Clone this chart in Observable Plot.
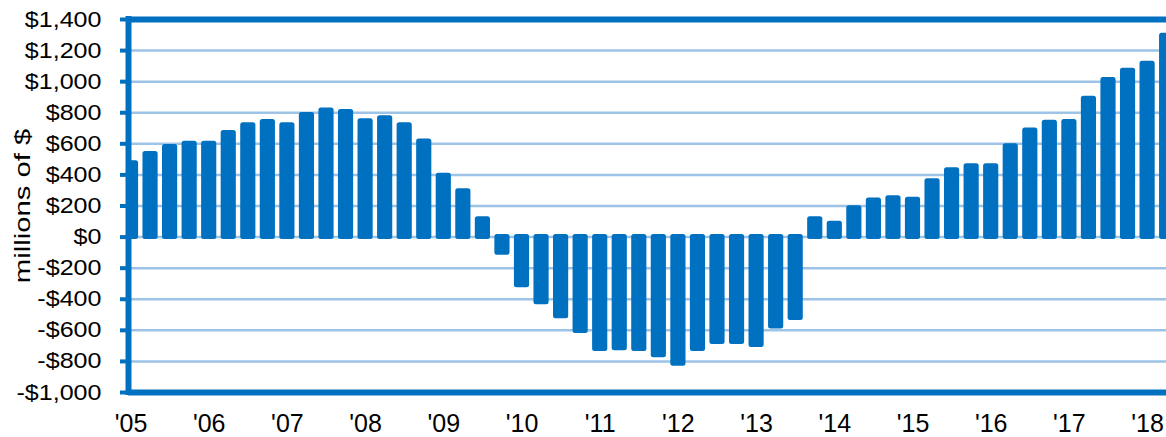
<!DOCTYPE html>
<html><head><meta charset="utf-8">
<script src="https://cdn.jsdelivr.net/npm/d3@7"></script>
<script src="https://cdn.jsdelivr.net/npm/@observablehq/plot@0.6"></script>
<style>body{margin:0;overflow:hidden;background:#fff}</style>
</head><body><div id="chart"></div>
<script>
// Quarterly values, 2005 Q1 .. 2018 Q2 (millions of $)
const values = [
  475, 535, 580, 600,   // 2005
  600, 670, 720, 740,   // 2006
  720, 785, 815, 805,   // 2007
  745, 765, 720, 615,   // 2008
  395, 295, 115, -100,  // 2009
  -310, -420, -510, -605, // 2010
  -720, -715, -720, -760, // 2011
  -815, -720, -675, -675, // 2012
  -695, -575, -520, 115,  // 2013
  85, 185, 235, 250,    // 2014
  240, 360, 430, 455,   // 2015
  455, 585, 685, 735,   // 2016
  740, 890, 1010, 1070, // 2017
  1115, 1295            // 2018
];
const yearLabels = ["'05","'06","'07","'08","'09","'10","'11","'12","'13","'14","'15","'16","'17","'18"];
const yTicks = [-1000, -800, -600, -400, -200, 0, 200, 400, 600, 800, 1000, 1200, 1400];
const yTitle = "millions of $";

const data = values.map((v, i) => ({q: i, value: v}));
const yearTicks = yearLabels.map((_, i) => i * 4);
const blue = "#0070C0", grid = "#9DC3E6";
const xDomain = [-0.128, 52.967];
const fmt = v => (v < 0 ? "-$" : "$") + d3.format(",")(Math.abs(v));

const chart = Plot.plot({
  width: 1166, height: 437,
  marginLeft: 128, marginRight: 0, marginTop: 19, marginBottom: 45,
  style: {fontFamily: "'Liberation Sans', Arial, sans-serif", background: "white", color: "black"},
  x: {domain: xDomain},
  y: {domain: [yTicks[0], yTicks[yTicks.length - 1]]},
  marks: [
    Plot.ruleY(yTicks.slice(1, -1), {stroke: grid, strokeWidth: 2.5}),
    Plot.rect(data, {x1: d => d.q - 0.26, x2: d => d.q + 0.26, y1: 0, y2: "value",
      fill: blue, stroke: blue, strokeWidth: 5, strokeLinejoin: "round", clip: true}),
    Plot.axisY({ticks: yTicks, tickFormat: fmt, tickSize: 8, tickPadding: 19,
      stroke: blue, strokeWidth: 4, fontSize: 22,
      label: yTitle, labelAnchor: "center", labelOffset: 114, labelArrow: false}),
    Plot.axisX({ticks: yearTicks, tickFormat: d => yearLabels[d / 4], tickSize: 0, tickPadding: 22, fontSize: 25, label: null}),
    Plot.ruleX([xDomain[0]], {stroke: blue, strokeWidth: 6, strokeLinecap: "square"}),
    Plot.ruleY([yTicks[0], yTicks[yTicks.length - 1]], {stroke: blue, strokeWidth: 6})
  ]
});
document.getElementById("chart").appendChild(chart);

// Widen the glyphs (the reference font renders wider than Arial)
function stretch(selector, s) {
  chart.querySelectorAll(selector).forEach(t => {
    const L = t.getComputedTextLength();
    if (L > 0) {
      t.setAttribute("textLength", (L * s).toFixed(2));
      t.setAttribute("lengthAdjust", "spacingAndGlyphs");
    }
  });
}
stretch('g[aria-label="y-axis tick label"] text', 1.14);
stretch('g[aria-label="y-axis label"] text', 1.33);
</script>
</body></html>
